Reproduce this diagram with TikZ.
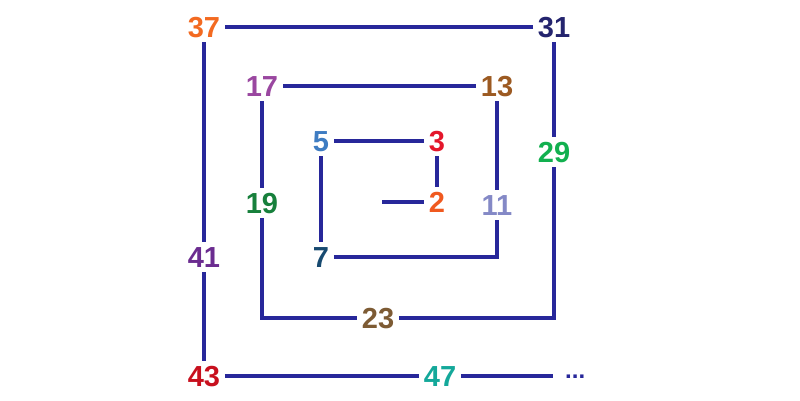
\documentclass[tikz,border=0pt]{standalone}
\usepackage{fontspec}
\setmainfont{Liberation Sans}
\definecolor{ln}{HTML}{27279A}
\definecolor{c37}{HTML}{F36A21}
\definecolor{c31}{HTML}{24246E}
\definecolor{c17}{HTML}{9A47A0}
\definecolor{c13}{HTML}{9C5A22}
\definecolor{c29}{HTML}{12B04F}
\definecolor{c5}{HTML}{3E7CC2}
\definecolor{c3}{HTML}{E4162B}
\definecolor{c2}{HTML}{F0591F}
\definecolor{c11}{HTML}{8489C6}
\definecolor{c7}{HTML}{174A70}
\definecolor{c19}{HTML}{17803C}
\definecolor{c41}{HTML}{6B2C90}
\definecolor{c23}{HTML}{7D5B34}
\definecolor{c43}{HTML}{C8101E}
\definecolor{c47}{HTML}{14A89A}
\tikzset{
  num/.style={font=\fontsize{29}{29}\selectfont\bfseries, text height=21pt, text depth=0pt, inner sep=4.5pt},
  link/.style={draw=ln, line width=3.6pt}
}
\begin{document}
\begin{tikzpicture}[x=1pt,y=-1pt]
\useasboundingbox[fill=white] (0,0) rectangle (800,400);
\coordinate (s) at (382,202);
\node[num, text=c2]  (n2)  at (437,202) {2};
\node[num, text=c3]  (n3)  at (437,141) {3};
\node[num, text=c5]  (n5)  at (321,141) {5};
\node[num, text=c7]  (n7)  at (321,257) {7};
\node[num, text=c11] (n11) at (497,205) {11};
\node[num, text=c13] (n13) at (497,86) {13};
\node[num, text=c17] (n17) at (262,86) {17};
\node[num, text=c19] (n19) at (262,203) {19};
\node[num, text=c23] (n23) at (378,318) {23};
\node[num, text=c29] (n29) at (554,152) {29};
\node[num, text=c31] (n31) at (554,27) {31};
\node[num, text=c37] (n37) at (204,27) {37};
\node[num, text=c41] (n41) at (204,257) {41};
\node[num, text=c43] (n43) at (204,376) {43};
\node[num, text=c47] (n47) at (440,376) {47};
\node[font=\fontsize{24}{24}\selectfont\bfseries, text=ln, inner sep=0pt, anchor=west] (dots) at (565,377) {...};
\draw[link] (s) -- (n2);
\draw[link] (n2) -- (n3);
\draw[link] (n3) -- (n5);
\draw[link] (n5) -- (n7);
\draw[link] (n7.east) -- (n7.east -| n11) -- (n11.south);
\draw[link] (n11) -- (n13);
\draw[link] (n13) -- (n17);
\draw[link] (n17) -- (n19);
\draw[link] (n19.south) -- (n19.south |- n23) -- (n23.west);
\draw[link] (n23.east) -- (n23.east -| n29) -- (n29.south);
\draw[link] (n29) -- (n31);
\draw[link] (n31) -- (n37);
\draw[link] (n37) -- (n41);
\draw[link] (n41) -- (n43);
\draw[link] (n43) -- (n47);
\draw[link] (n47.east) -- ++(92,0) coordinate (e);
\end{tikzpicture}
\end{document}
